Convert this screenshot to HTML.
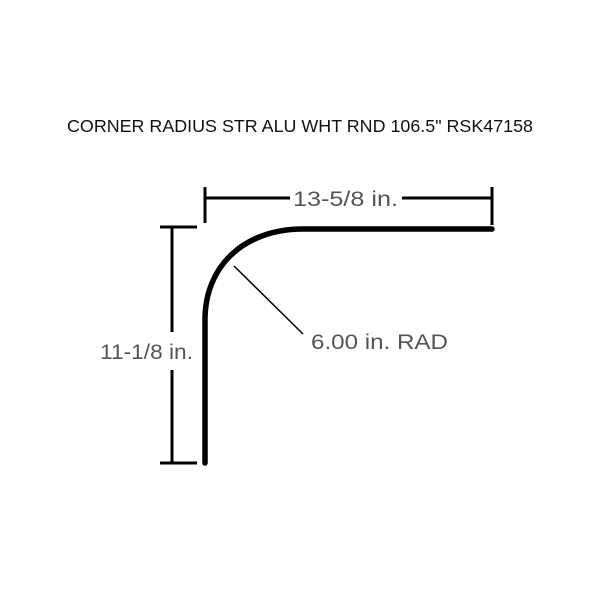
<!DOCTYPE html>
<html><head><style>
html,body{margin:0;padding:0;background:#fff;}
</style></head><body>
<svg width="600" height="600" xmlns="http://www.w3.org/2000/svg" style="display:block">
<rect width="600" height="600" fill="#fff"/>
<text x="67" y="132" textLength="466" lengthAdjust="spacingAndGlyphs" font-family="Liberation Sans, sans-serif" font-size="17.5" fill="#111">CORNER RADIUS STR ALU WHT RND 106.5" RSK47158</text>
<path d="M205,463 L205,320 C205,265 245,229 303,229 L492,229" fill="none" stroke="#000" stroke-width="5.5" stroke-linecap="round"/>
<g stroke="#000" stroke-width="3" fill="none">
<line x1="205" y1="187" x2="205" y2="223"/>
<line x1="492" y1="187" x2="492" y2="225"/>
<line x1="205" y1="198" x2="290" y2="198"/>
<line x1="402" y1="198" x2="492" y2="198"/>
<line x1="160" y1="227" x2="197" y2="227"/>
<line x1="160" y1="463" x2="197" y2="463"/>
<line x1="172" y1="227" x2="172" y2="332"/>
<line x1="172" y1="370" x2="172" y2="463"/>
</g>
<line x1="234" y1="266" x2="303" y2="334" stroke="#000" stroke-width="1.5"/>
<g font-family="Liberation Sans, sans-serif" font-size="21" fill="#555">
<text x="293" y="206" textLength="105" lengthAdjust="spacingAndGlyphs">13-5/8 in.</text>
<text x="100" y="359" textLength="93" lengthAdjust="spacingAndGlyphs">11-1/8 in.</text>
<text x="311" y="349" textLength="137" lengthAdjust="spacingAndGlyphs">6.00 in. RAD</text>
</g>
</svg>
</body></html>
